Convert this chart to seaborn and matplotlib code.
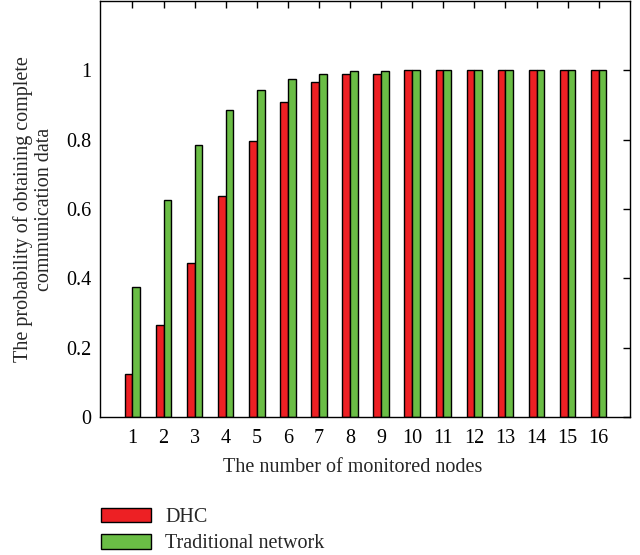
import matplotlib
matplotlib.use("Agg")
import matplotlib.pyplot as plt
import seaborn as sns
import pandas as pd
from matplotlib.patches import Patch

nodes = [str(i) for i in range(1, 17)]
dhc = [0.125, 0.266, 0.443, 0.636, 0.795, 0.909, 0.966, 0.989, 0.989,
       1.0, 1.0, 1.0, 1.0, 1.0, 1.0, 1.0]
traditional = [0.375, 0.625, 0.786, 0.886, 0.943, 0.974, 0.989, 0.997, 0.999,
               1.0, 1.0, 1.0, 1.0, 1.0, 1.0, 1.0]
series_names = ["DHC", "Traditional network"]
colors = ["#ED2024", "#6ABD45"]
y_ticks = [0, 0.2, 0.4, 0.6, 0.8, 1]
y_tick_labels = ["0", "0.2", "0.4", "0.6", "0.8", "1"]

df = pd.DataFrame({
    "node": nodes * 2,
    "prob": dhc + traditional,
    "series": [series_names[0]] * len(nodes) + [series_names[1]] * len(nodes),
})

sns.set_style("white")
plt.rcParams["font.family"] = ["Liberation Serif", "DejaVu Serif"]

fig = plt.figure(figsize=(6.4, 5.55), dpi=100)
ax = fig.add_axes([0.156, 0.249, 0.828, 0.749])

sns.barplot(data=df, x="node", y="prob", hue="series", order=nodes,
            hue_order=series_names, palette=colors, width=0.5, dodge=True,
            edgecolor="black", linewidth=1.0, saturation=1, ax=ax, legend=False)

ax.set_xlim(-1.05, 16.0)
ax.set_ylim(0, 1.2)
ax.set_yticks(y_ticks)
ax.set_yticklabels(y_tick_labels)
ax.tick_params(direction="in", length=5, width=1, top=True, right=True,
               labelsize=14.5, colors="black", pad=6)
ax.tick_params(axis="x", pad=9)
for s in ax.spines.values():
    s.set_color("black")
    s.set_linewidth(1.0)
    s.set_visible(True)

ax.set_xlabel("The number of monitored nodes", fontsize=14.5)
ax.xaxis.set_label_coords(0.478, -0.1)
ax.set_ylabel("The probability of obtaining complete\ncommunication data",
              fontsize=14.5, linespacing=1.15)
ax.yaxis.set_label_coords(-0.087, 0.5)

handles = [Patch(facecolor=c, edgecolor="black", linewidth=1.0) for c in colors]
fig.legend(handles, series_names, loc="upper left",
           bbox_to_anchor=(0.145, 0.1), frameon=False, fontsize=14.5,
           handlelength=2.5, handleheight=0.75, labelspacing=0.35,
           handletextpad=0.7, borderaxespad=0)

fig.savefig("out.png", dpi=100)
